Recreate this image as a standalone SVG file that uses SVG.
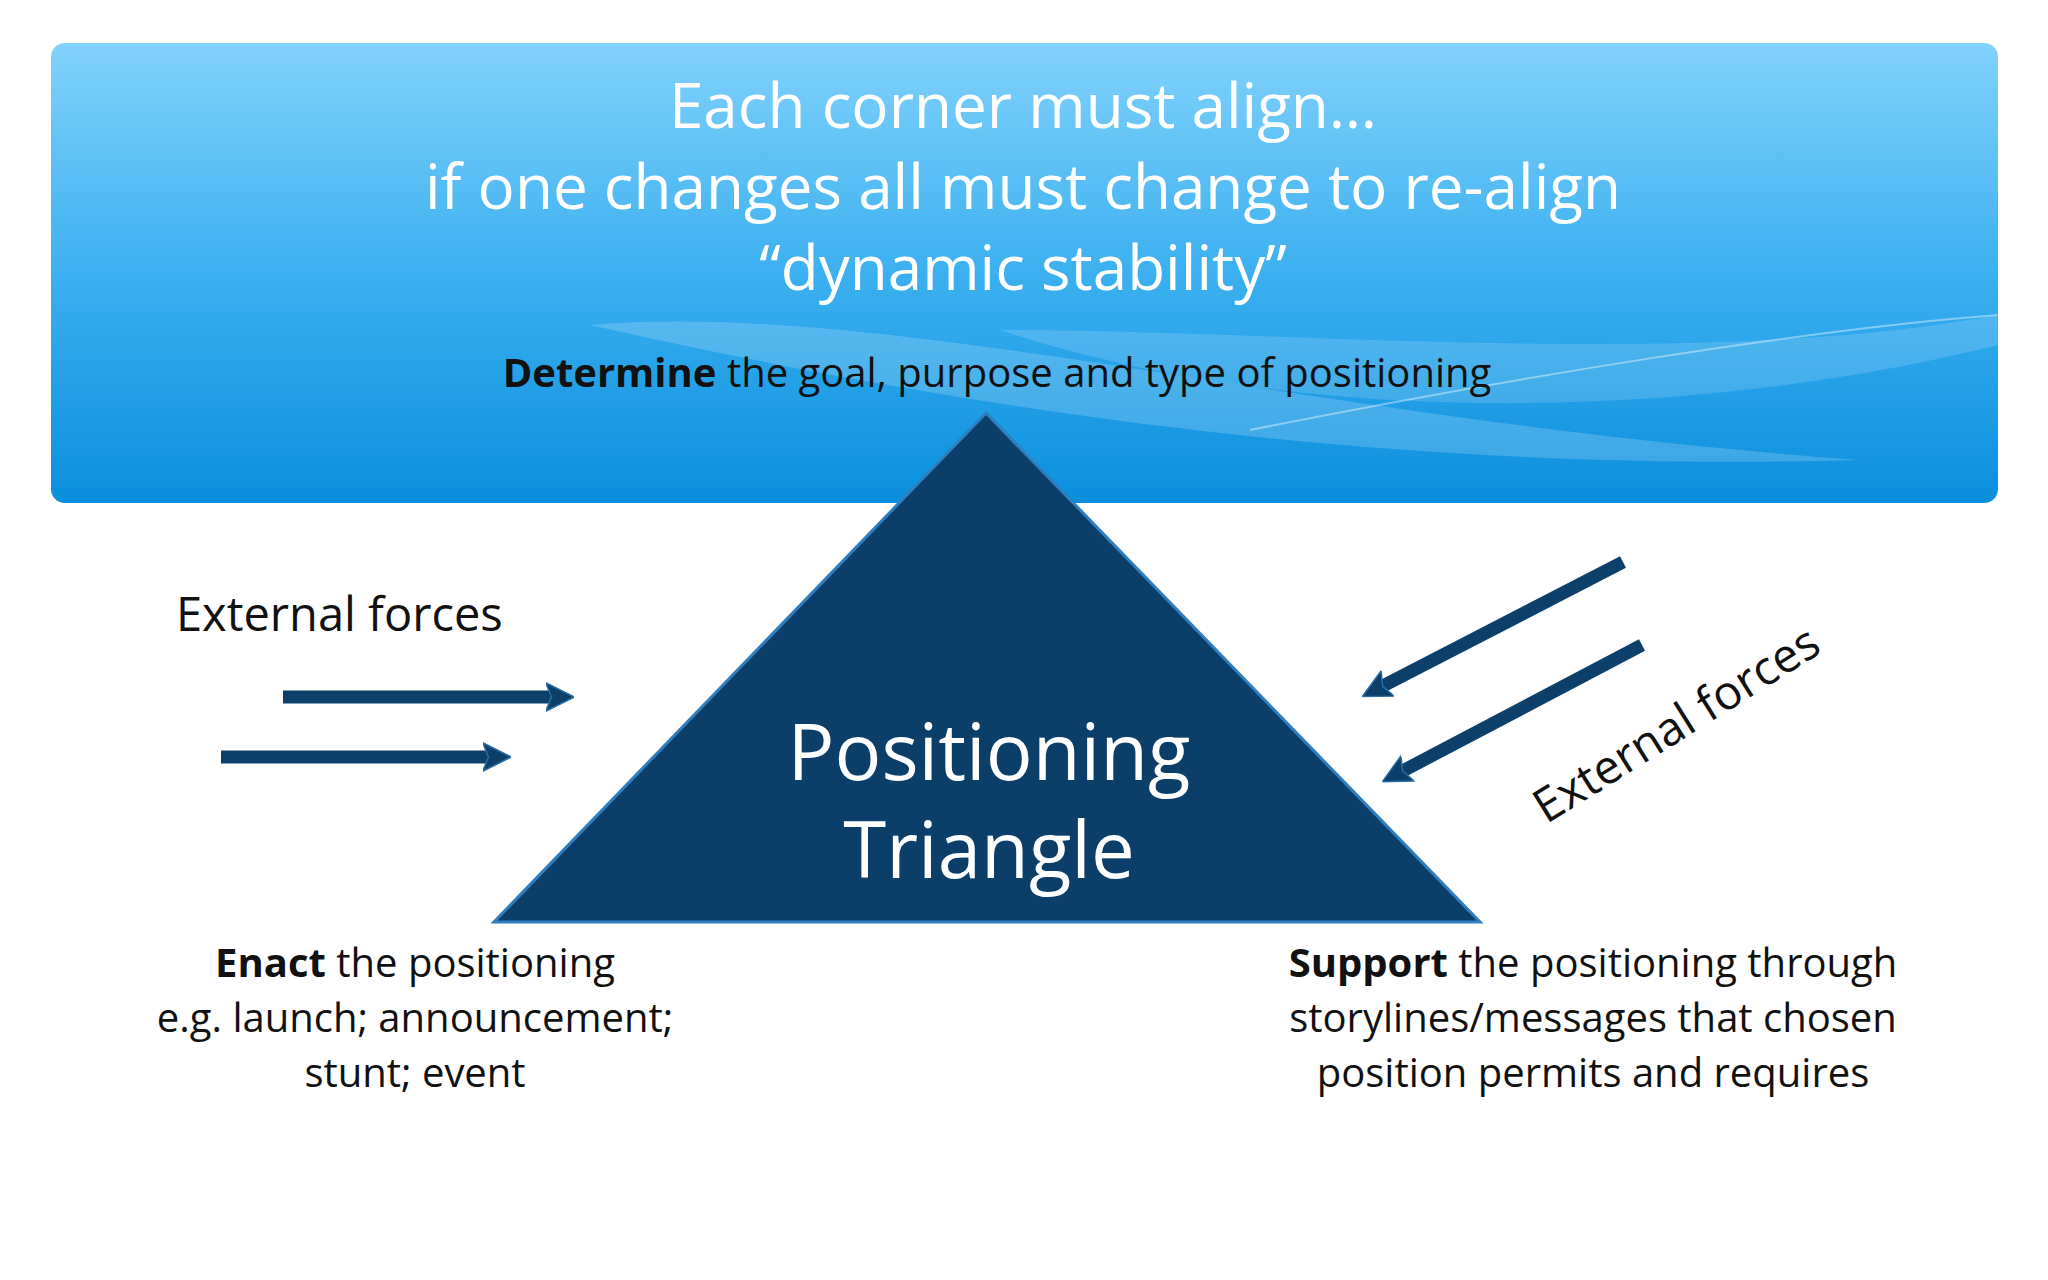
<svg xmlns="http://www.w3.org/2000/svg" width="2048" height="1280" viewBox="0 0 2048 1280">
<defs>
<linearGradient id="bg" x1="0" y1="0" x2="0" y2="1">
<stop offset="0" stop-color="#82d2fc"/><stop offset="0.5" stop-color="#3cb0f0"/><stop offset="1" stop-color="#0a8fdd"/>
</linearGradient>
<marker id="ah" viewBox="0 0 10 10" refX="5" refY="5" markerWidth="2.2" markerHeight="3" orient="auto">
<path d="M0,0 L10,5 L0,10 L2,5 Z" fill="#0d3f6b" stroke="#2a6fa5" stroke-width="0.5"/>
</marker>
<style>
.t{font-family:"Open Sans","Liberation Sans",sans-serif;}
.w{fill:#fff;}
.k{fill:#111;}
.arr{stroke:#0d3f6b;stroke-width:13;fill:none;marker-end:url(#ah);}
</style>
</defs>
<rect width="2048" height="1280" fill="#fff"/>
<g id="banner">
<rect x="51" y="43" width="1947" height="460" rx="14" fill="url(#bg)"/>
<path d="M590,325 C900,300 1300,420 1860,460 C1500,470 1100,440 590,325 Z" fill="#ffffff" opacity="0.18"/>
<path d="M1000,330 C1300,330 1700,370 1998,315 L1998,345 C1700,420 1300,430 1000,330 Z" fill="#ffffff" opacity="0.15"/>
<path d="M1250,430 C1500,380 1800,330 1998,315" stroke="#fff" stroke-opacity="0.4" fill="none" stroke-width="2"/>
<text class="t w" x="1023" y="128" font-size="62" text-anchor="middle">Each corner must align…</text>
<text class="t w" x="1023" y="209" font-size="62" text-anchor="middle">if one changes all must change to re-align</text>
<text class="t w" x="1023" y="290" font-size="62" text-anchor="middle">“dynamic stability”</text>
<text class="t k" x="997" y="387" font-size="40" text-anchor="middle"><tspan font-weight="bold">Determine</tspan> the goal, purpose and type of positioning</text>
</g>
<g id="triangle">
<polygon points="986,413 494,922 1480,922" fill="#0b3f6a" stroke="#2f7fc0" stroke-width="3"/>
<text class="t w" x="989" y="780" font-size="78" text-anchor="middle">Positioning</text>
<text class="t w" x="989" y="878" font-size="78" text-anchor="middle">Triangle</text>
</g>
<g id="connectors">
<line class="arr" x1="283" y1="697" x2="560" y2="697"/>
<line class="arr" x1="221" y1="757" x2="497" y2="757"/>
<line class="arr" x1="1623" y1="562" x2="1375" y2="690"/>
<line class="arr" x1="1642" y1="645" x2="1395" y2="775"/>
</g>
<g id="labels">
<text class="t k" x="176" y="631" font-size="47">External forces</text>
<text class="t k" x="1678" y="740" font-size="47" text-anchor="middle" transform="rotate(-32 1678 727)">External forces</text>
<text class="t k" font-size="40" text-anchor="middle"><tspan x="415" y="977"><tspan font-weight="bold">Enact</tspan> the positioning</tspan><tspan x="415" y="1032">e.g. launch; announcement;</tspan><tspan x="415" y="1087">stunt; event</tspan></text>
<text class="t k" font-size="40" text-anchor="middle"><tspan x="1593" y="977"><tspan font-weight="bold">Support</tspan> the positioning through</tspan><tspan x="1593" y="1032">storylines/messages that chosen</tspan><tspan x="1593" y="1087">position permits and requires</tspan></text>
</g>
</svg>
